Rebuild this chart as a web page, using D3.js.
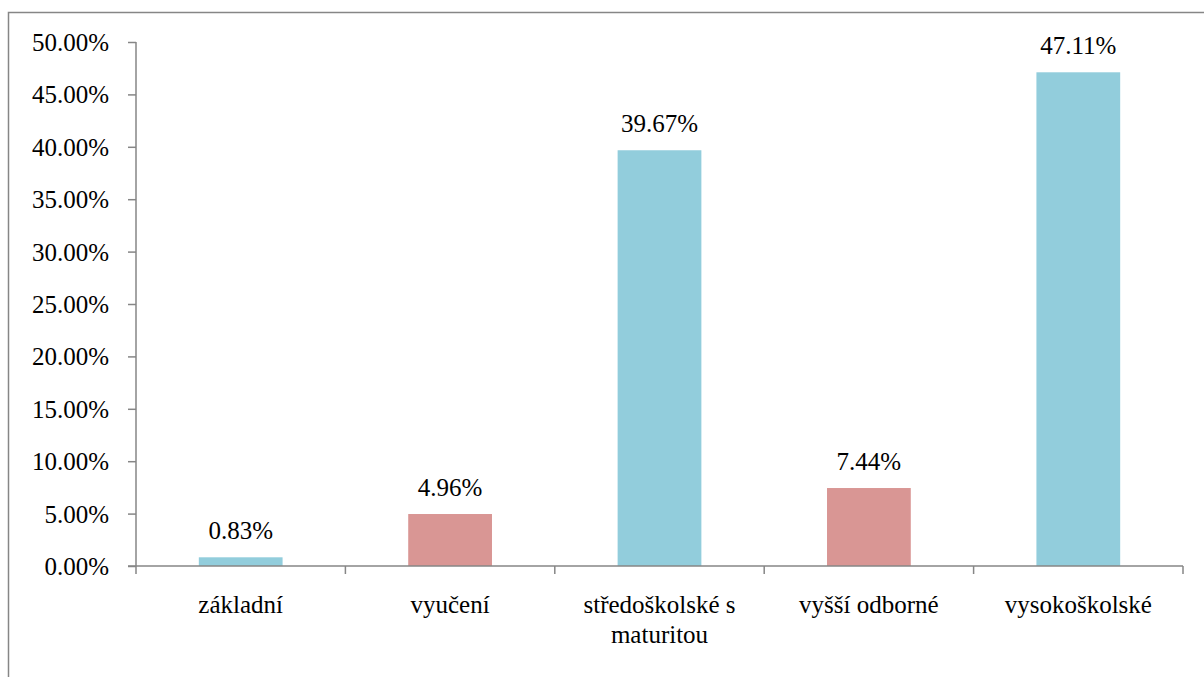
<!DOCTYPE html>
<html><head><meta charset="utf-8">
<script src="https://cdn.jsdelivr.net/npm/d3@7"></script>
<style>body{margin:0;background:#fff}svg{display:block}
text{font-family:"Liberation Serif","Times New Roman","DejaVu Serif",serif;}</style>
</head><body>
<svg id="c" width="1204" height="677"></svg>
<script>
const categories = ["základní", "vyučení", "středoškolské s maturitou", "vyšší odborné", "vysokoškolské"];
const categoryLines = [["základní"], ["vyučení"], ["středoškolské s", "maturitou"], ["vyšší odborné"], ["vysokoškolské"]];
const values = [0.83, 4.96, 39.67, 7.44, 47.11];
const barColors = ["#92CDDC", "#D99694", "#92CDDC", "#D99694", "#92CDDC"];
const yTicks = [0, 5, 10, 15, 20, 25, 30, 35, 40, 45, 50];

(function () {
const svg = d3.select("#c");
const fs = 25;
const pl = 136, pr = 1183, pt = 42, pb = 566;

svg.append("rect").attr("x", 8.5).attr("y", 12.5).attr("width", 1300).attr("height", 1000)
  .attr("fill", "none").attr("stroke", "#868686").attr("stroke-width", 1.5);

const x = d3.scaleBand().domain(categories).range([pl, pr]).paddingInner(0.6).paddingOuter(0.3);
const xb = d3.scaleBand().domain(categories).range([pl, pr]);
const y = d3.scaleLinear().domain([0, 50]).range([pb, pt]);

svg.append("g").selectAll("rect").data(values).join("rect")
  .attr("x", (d, i) => x(categories[i]))
  .attr("width", x.bandwidth())
  .attr("y", d => y(d))
  .attr("height", d => y(0) - y(d))
  .attr("fill", (d, i) => barColors[i]);

const ya = svg.append("g").attr("transform", `translate(${pl},0)`)
  .call(d3.axisLeft(y).tickValues(yTicks).tickSize(8).tickPadding(19).tickFormat(d => d.toFixed(2) + "%"));
ya.attr("font-family", null).attr("font-size", null);
ya.select(".domain").attr("stroke", "#868686").attr("stroke-width", 1.5).attr("d", `M0,${pt}V${pb}`);
ya.selectAll(".tick line").attr("stroke", "#868686").attr("stroke-width", 1.5);
ya.selectAll("text").attr("font-size", fs).attr("fill", "#000").attr("dy", "0.34em");

const xa = svg.append("g").attr("transform", `translate(0,${pb})`);
xa.append("line").attr("x1", pl - 8).attr("x2", pr).attr("y1", 0).attr("y2", 0)
  .attr("stroke", "#868686").attr("stroke-width", 1.5);
const bounds = categories.map(c => xb(c)).concat([pr]);
xa.selectAll("line.t").data(bounds).join("line").attr("class", "t")
  .attr("x1", d => d).attr("x2", d => d).attr("y1", 0).attr("y2", 8)
  .attr("stroke", "#868686").attr("stroke-width", 1.5);

const lab = xa.selectAll("text.c").data(categoryLines).join("text").attr("class", "c")
  .attr("text-anchor", "middle").attr("font-size", fs)
  .attr("x", (d, i) => xb(categories[i]) + xb.bandwidth() / 2);
lab.selectAll("tspan").data(d => d).join("tspan")
  .attr("x", function () { return d3.select(this.parentNode).attr("x"); })
  .attr("y", (d, j) => 47 + j * 30).text(d => d);

svg.append("g").selectAll("text").data(values).join("text")
  .attr("x", (d, i) => x(categories[i]) + x.bandwidth() / 2)
  .attr("y", d => y(d) - 18)
  .attr("text-anchor", "middle").attr("font-size", fs)
  .text(d => d.toFixed(2) + "%");
})();
</script>
</body></html>
